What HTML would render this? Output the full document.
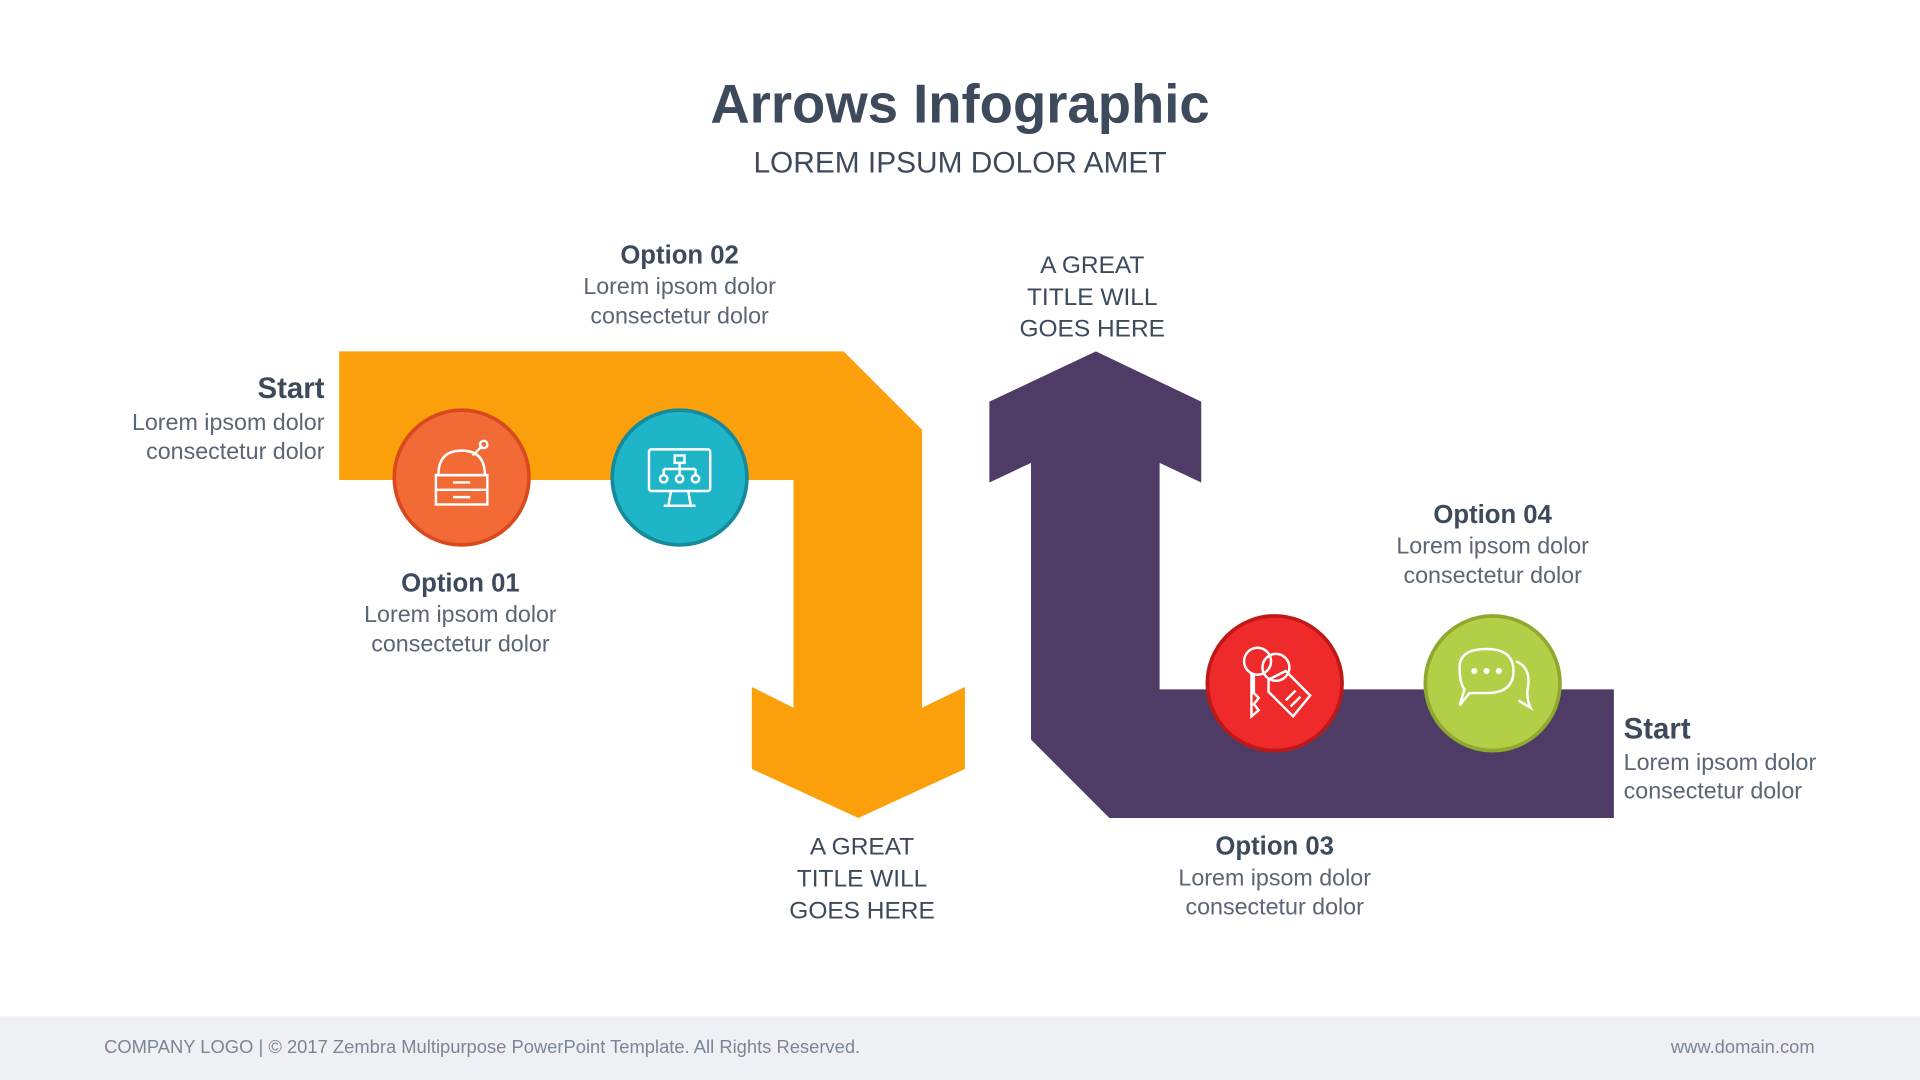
<!DOCTYPE html>
<html><head><meta charset="utf-8">
<style>
html,body{margin:0;padding:0;width:1920px;height:1080px;overflow:hidden;background:#fff}
svg{display:block}
text{font-family:"Liberation Sans",sans-serif}
</style></head>
<body>
<svg width="1920" height="1080" viewBox="0 0 1568 882" xmlns="http://www.w3.org/2000/svg">
<rect x="0" y="0" width="1568" height="882" fill="#fff"/>
<text x="784" y="100" text-anchor="middle" font-size="44.5" font-weight="bold" fill="#3d4a5c">Arrows Infographic</text>
<text x="784" y="141" text-anchor="middle" font-size="24.4" fill="#3d4a5c">LOREM IPSUM DOLOR AMET</text>

<polygon points="277,287 689,287 753,351 753,578 788,561 788,628 701,668 614,628 614,561 648,578 648,392 277,392" fill="#fba00b"/>
<polygon points="895,287 981,328 981,394 947,378 947,563 1318,563 1318,668 906,668 842,604 842,378 808,394 808,328" fill="#4f3c66"/>

<circle cx="377" cy="390" r="55" fill="#f26a35" stroke="#d84a1e" stroke-width="3"/>
<circle cx="555" cy="390" r="55" fill="#1fb5c8" stroke="#16899a" stroke-width="3"/>
<circle cx="1041" cy="558" r="55" fill="#ee2a2a" stroke="#c01818" stroke-width="3"/>
<circle cx="1219" cy="558" r="55" fill="#b3cf48" stroke="#8fa82e" stroke-width="3"/>

<g fill="none" stroke="#fff" stroke-width="2">
 <path d="M358,388 Q358,368 377,368 Q396,368 396,388 Z"/>
 <rect x="356" y="388" width="42" height="24"/>
 <line x1="356" y1="400" x2="398" y2="400"/>
 <line x1="370" y1="394" x2="384" y2="394"/>
 <line x1="370" y1="406" x2="384" y2="406"/>
 <path d="M386,372 L394,364"/><circle cx="395" cy="363" r="3"/>
 <rect x="530" y="367" width="50" height="34" rx="2"/>
 <path d="M548,401 L546,412 M562,401 L564,412 M542,413 L568,413"/>
 <rect x="551" y="372" width="8" height="6"/>
 <path d="M555,378 V383 M542,383 H568 M542,383 V388 M555,383 V388 M568,383 V388"/>
 <circle cx="542" cy="391" r="3"/><circle cx="555" cy="391" r="3"/><circle cx="568" cy="391" r="3"/>
 <circle cx="1027" cy="540" r="11"/><circle cx="1042" cy="545" r="11"/>
 <path d="M1022,550 V585 L1028,580 L1024,575 L1028,570 L1024,566 V550"/>
 <path d="M1036,555 L1050,548 L1070,568 L1056,585 L1036,565 Z"/>
 <path d="M1050,572 L1058,564 M1054,577 L1062,569"/>
 <path d="M1192,545 Q1192,530 1214,530 Q1236,530 1236,548 Q1236,566 1214,566 L1200,566 L1192,576 L1196,563 Q1192,558 1192,545 Z"/>
 <path d="M1238,540 Q1250,545 1248,560 Q1246,570 1250,578 L1240,572"/>
</g>
<g fill="#fff"><circle cx="1204" cy="548" r="2.5"/><circle cx="1214" cy="548" r="2.5"/><circle cx="1224" cy="548" r="2.5"/></g>

<g fill="#3d4a5c" font-size="19">
 <text x="555" y="215" text-anchor="middle" font-weight="bold" font-size="21">Option 02</text>
 <text x="555" y="240" text-anchor="middle" fill="#5a6575">Lorem ipsom dolor</text>
 <text x="555" y="264" text-anchor="middle" fill="#5a6575">consectetur dolor</text>

 <text x="265" y="325" text-anchor="end" font-weight="bold" font-size="24">Start</text>
 <text x="265" y="351" text-anchor="end" fill="#5a6575">Lorem ipsom dolor</text>
 <text x="265" y="375" text-anchor="end" fill="#5a6575">consectetur dolor</text>

 <text x="376" y="483" text-anchor="middle" font-weight="bold" font-size="21">Option 01</text>
 <text x="376" y="508" text-anchor="middle" fill="#5a6575">Lorem ipsom dolor</text>
 <text x="376" y="532" text-anchor="middle" fill="#5a6575">consectetur dolor</text>

 <text x="892" y="223" text-anchor="middle" font-size="20">A GREAT</text>
 <text x="892" y="249" text-anchor="middle" font-size="20">TITLE WILL</text>
 <text x="892" y="275" text-anchor="middle" font-size="20">GOES HERE</text>

 <text x="704" y="698" text-anchor="middle" font-size="20">A GREAT</text>
 <text x="704" y="724" text-anchor="middle" font-size="20">TITLE WILL</text>
 <text x="704" y="750" text-anchor="middle" font-size="20">GOES HERE</text>

 <text x="1219" y="427" text-anchor="middle" font-weight="bold" font-size="21">Option 04</text>
 <text x="1219" y="452" text-anchor="middle" fill="#5a6575">Lorem ipsom dolor</text>
 <text x="1219" y="476" text-anchor="middle" fill="#5a6575">consectetur dolor</text>

 <text x="1326" y="603" font-weight="bold" font-size="24">Start</text>
 <text x="1326" y="629" fill="#5a6575">Lorem ipsom dolor</text>
 <text x="1326" y="652" fill="#5a6575">consectetur dolor</text>

 <text x="1041" y="698" text-anchor="middle" font-weight="bold" font-size="21">Option 03</text>
 <text x="1041" y="723" text-anchor="middle" fill="#5a6575">Lorem ipsom dolor</text>
 <text x="1041" y="747" text-anchor="middle" fill="#5a6575">consectetur dolor</text>
</g>

<rect x="0" y="830" width="1568" height="52" fill="#eef0f3"/>
<text x="85" y="860" font-size="15" fill="#7a8596">COMPANY LOGO | © 2017 Zembra Multipurpose PowerPoint Template. All Rights Reserved.</text>
<text x="1482" y="860" font-size="15" fill="#7a8596" text-anchor="end">www.domain.com</text>
</svg>
</body></html>
